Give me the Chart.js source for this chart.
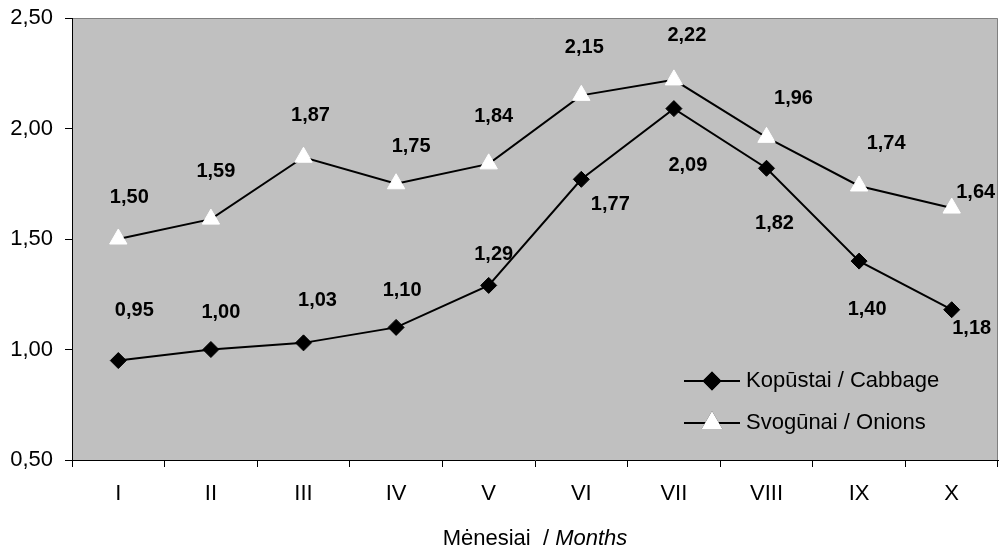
<!DOCTYPE html>
<html>
<head>
<meta charset="utf-8">
<script src="https://cdn.jsdelivr.net/npm/chart.js@4.4.0/dist/chart.umd.min.js"></script>
<style>
  html, body { margin: 0; padding: 0; background: #fff; overflow: hidden; }
  #wrap { width: 1003px; height: 553px; overflow: hidden; }
</style>
</head>
<body>
<div id="wrap"><canvas id="grafico" width="1009" height="553"></canvas></div>
<script>
const meses = ['I', 'II', 'III', 'IV', 'V', 'VI', 'VII', 'VIII', 'IX', 'X']
const kopustai = [0.95, 1.00, 1.03, 1.10, 1.29, 1.77, 2.09, 1.82, 1.40, 1.18]
const svogunai = [1.50, 1.59, 1.87, 1.75, 1.84, 2.15, 2.22, 1.96, 1.74, 1.64]
const yTicks = [0.5, 1.0, 1.5, 2.0, 2.5]

// label offsets (px) from each point, as placed in the original
const kopustaiOffset = [[16, -50], [10, -37], [14, -42], [6, -37], [5, -31], [29, 25], [14, 57], [8, 55], [8, 48], [20, 19]]
const svogunaiOffset = [[11, -42], [5, -48], [7, -42], [15, -37], [5, -47], [3, -48], [13, -44], [27, -39], [27, -42], [24, -16]]

const FONT = '"Liberation Sans", Arial, sans-serif'
const fmt = v => v.toFixed(2).replace('.', ',')

const fondo = {
  id: 'fondo',
  beforeDraw(chart) {
    const { ctx, chartArea: a } = chart
    ctx.save()
    ctx.fillStyle = '#c0c0c0'
    ctx.fillRect(a.left, a.top, a.right - a.left, a.bottom - a.top)
    ctx.strokeStyle = '#808080'
    ctx.lineWidth = 1
    ctx.beginPath()
    ctx.moveTo(a.left, a.top + 0.5)
    ctx.lineTo(a.right - 0.5, a.top + 0.5)
    ctx.lineTo(a.right - 0.5, a.bottom)
    ctx.stroke()
    ctx.restore()
  }
}

const etiquetas = {
  id: 'etiquetas',
  afterDatasetsDraw(chart) {
    const ctx = chart.ctx
    const offsets = [kopustaiOffset, svogunaiOffset]
    ctx.save()
    ctx.font = 'bold 20px ' + FONT
    ctx.fillStyle = '#000'
    ctx.textAlign = 'center'
    ctx.textBaseline = 'middle'
    chart.data.datasets.forEach((ds, i) => {
      chart.getDatasetMeta(i).data.forEach((pt, j) => {
        const [dx, dy] = offsets[i][j]
        ctx.fillText(fmt(ds.data[j]), pt.x + dx, pt.y + dy)
      })
    })
    ctx.restore()
  }
}

const leyenda = {
  id: 'leyenda',
  afterDraw(chart) {
    const ctx = chart.ctx
    const filas = [381, 423]
    ctx.save()
    chart.data.datasets.forEach((ds, i) => {
      const y = filas[i]
      ctx.strokeStyle = '#000'
      ctx.lineWidth = 2
      ctx.beginPath()
      ctx.moveTo(684, y)
      ctx.lineTo(740, y)
      ctx.stroke()
      Chart.helpers.drawPoint(ctx, {
        pointStyle: ds.pointStyle,
        radius: ds.pointRadius,
        borderWidth: 1
      }, 712, y)
      ctx.fillStyle = ds.pointBackgroundColor
      ctx.strokeStyle = ds.pointBorderColor
      ctx.fill()
      ctx.stroke()
      ctx.fillStyle = '#000'
      ctx.font = '22px ' + FONT
      ctx.textAlign = 'left'
      ctx.textBaseline = 'middle'
      ctx.fillText(ds.label, 746, y)
    })
    ctx.restore()
  }
}

const tituloX = {
  id: 'tituloX',
  afterDraw(chart) {
    const ctx = chart.ctx
    ctx.save()
    ctx.fillStyle = '#000'
    ctx.textBaseline = 'middle'
    ctx.textAlign = 'left'
    const a = 'Mėnesiai  / '
    const b = 'Months'
    ctx.font = '22px ' + FONT
    const wa = ctx.measureText(a).width
    ctx.font = 'italic 22px ' + FONT
    const wb = ctx.measureText(b).width
    const x0 = 535 - (wa + wb) / 2
    ctx.font = '22px ' + FONT
    ctx.fillText(a, x0, 539)
    ctx.font = 'italic 22px ' + FONT
    ctx.fillText(b, x0 + wa, 539)
    ctx.restore()
  }
}

new Chart(document.getElementById('grafico').getContext('2d'), {
  type: 'line',
  data: {
    labels: meses,
    datasets: [{
      label: 'Kopūstai / Cabbage',
      data: kopustai,
      borderColor: '#000',
      borderWidth: 2,
      pointStyle: 'rectRot',
      pointRadius: 8,
      pointBackgroundColor: '#000',
      pointBorderColor: '#000',
      pointBorderWidth: 1,
      tension: 0
    }, {
      label: 'Svogūnai / Onions',
      data: svogunai,
      borderColor: '#000',
      borderWidth: 2,
      pointStyle: 'triangle',
      pointRadius: 10,
      pointBackgroundColor: '#fff',
      pointBorderColor: '#fff',
      pointBorderWidth: 1,
      tension: 0
    }]
  },
  options: {
    responsive: false,
    animation: false,
    layout: { padding: { top: 18, right: 0, left: 0, bottom: 0 } },
    plugins: {
      legend: { display: false },
      tooltip: { enabled: false }
    },
    scales: {
      x: {
        offset: true,
        afterFit: s => { s.height = 93; s.paddingLeft = 0; s.paddingRight = 0 },
        grid: { offset: true, drawOnChartArea: false, tickLength: 7, color: '#000', tickColor: '#000' },
        border: { color: '#000', width: 1 },
        ticks: { color: '#000', padding: 14, font: { family: FONT, size: 22 }, maxRotation: 0 }
      },
      y: {
        min: 0.5,
        max: 2.5,
        afterFit: s => { s.width = 72; s.paddingTop = 0; s.paddingBottom = 0 },
        afterBuildTicks: s => { s.ticks = yTicks.map(v => ({ value: v })) },
        grid: { drawOnChartArea: false, tickLength: 7, color: '#000', tickColor: '#000' },
        border: { color: '#000', width: 1 },
        ticks: { color: '#000', padding: 12, font: { family: FONT, size: 22 }, callback: v => fmt(v) }
      }
    }
  },
  plugins: [fondo, etiquetas, leyenda, tituloX]
})
</script>
</body>
</html>
